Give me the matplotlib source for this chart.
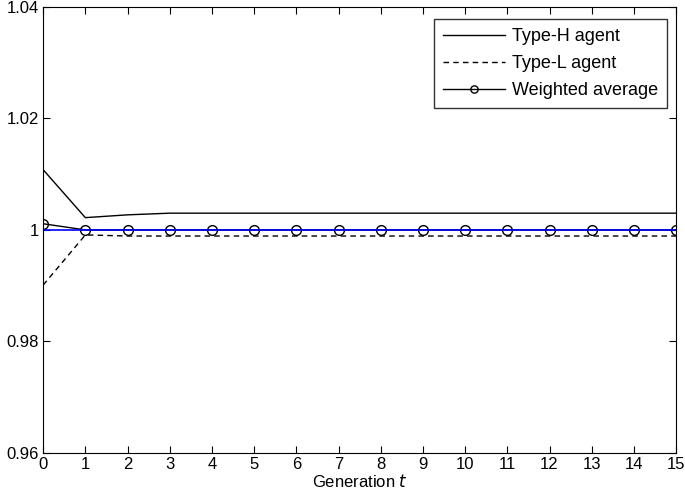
import numpy as np
import matplotlib.pyplot as plt

plt.rcParams['font.family'] = ['Liberation Sans', 'DejaVu Sans']

gen = list(range(16))
type_h = [1.0108, 1.0022, 1.0027, 1.0030, 1.0030, 1.0030, 1.0030, 1.0030,
          1.0030, 1.0030, 1.0030, 1.0030, 1.0030, 1.0030, 1.0030, 1.0030]
type_l = [0.9901, 0.9991, 0.9989, 0.9989, 0.9989, 0.9989, 0.9989, 0.9989,
          0.9989, 0.9989, 0.9989, 0.9989, 0.9989, 0.9989, 0.9989, 0.9989]
w_avg = [1.0011, 1.0, 1.0, 1.0, 1.0, 1.0, 1.0, 1.0,
         1.0, 1.0, 1.0, 1.0, 1.0, 1.0, 1.0, 1.0]
ref = 1.0

fig = plt.figure(figsize=(6.85, 4.96), dpi=100)
ax = fig.add_axes([0.063, 0.087, 0.924, 0.899])

ax.plot(gen, type_h, '-', color='black', lw=1, label='Type-H agent')
ax.plot(gen, type_l, '--', color='black', lw=1, dashes=(4, 3), label='Type-L agent')
ax.plot(gen, w_avg, '-o', color='black', lw=1, ms=7, mfc='none', mec='black',
        label='Weighted average')
ax.axhline(ref, color='blue', lw=1.2, zorder=2.5)

ax.set_xlim(0, 15)
ax.set_ylim(0.96, 1.04)
ax.set_xticks(gen)
ax.set_yticks([0.96, 0.98, 1.0, 1.02, 1.04])
ax.set_yticklabels(['0.96', '0.98', '1', '1.02', '1.04'])
ax.tick_params(direction='in', top=True, right=True, labelsize=12, length=5, pad=3)
ax.set_xlabel('Generation $t$', fontsize=12, labelpad=1)

leg = ax.legend(loc='upper right', bbox_to_anchor=(0.986, 0.973), fontsize=13,
                frameon=True, fancybox=False, edgecolor='black', borderaxespad=0,
                handlelength=3.4, borderpad=0.5, labelspacing=0.55,
                handletextpad=0.4, markerscale=0.75)
leg.get_frame().set_linewidth(1)

fig.savefig('out.png', dpi=100)
